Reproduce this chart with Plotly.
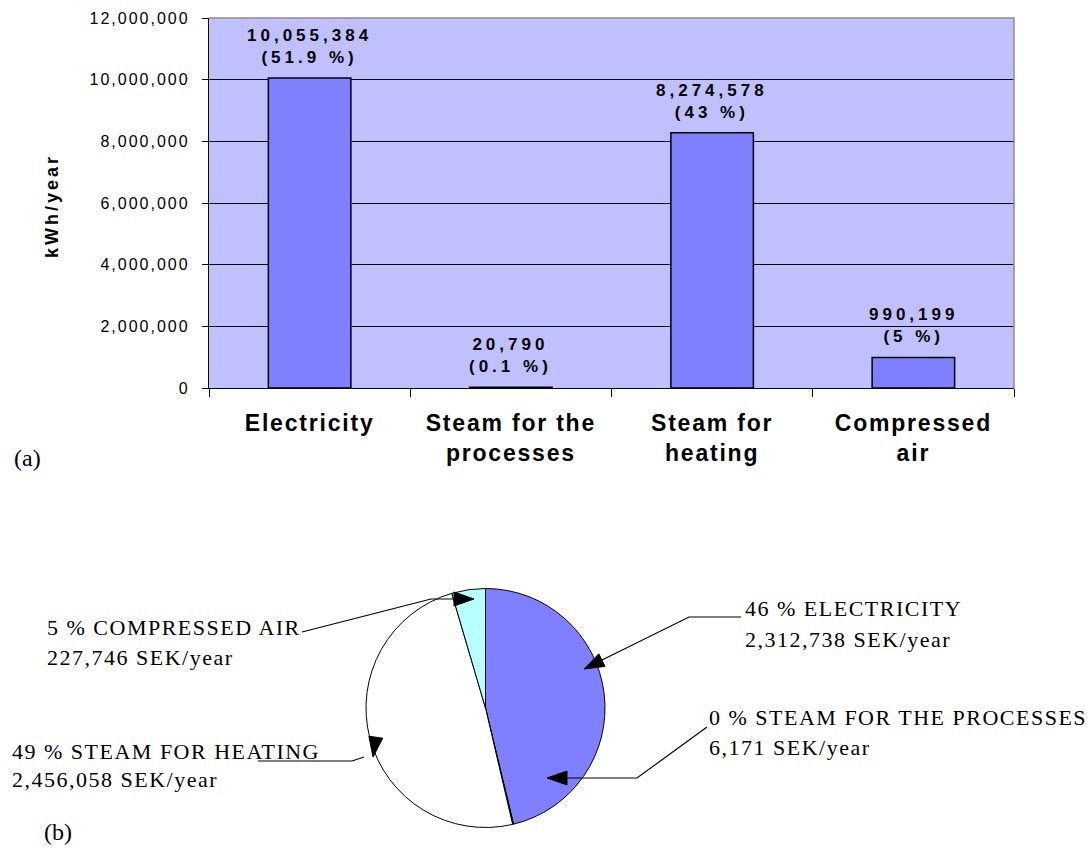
import plotly.graph_objects as go

# ---------------- data ----------------
categories = ["Electricity", "Steam for the processes", "Steam for heating", "Compressed air"]
tick_labels = ["Electricity", "Steam for the<br>processes", "Steam for<br>heating", "Compressed<br>air"]
energy_kwh = [10055384, 20790, 8274578, 990199]
energy_pct = ["51.9", "0.1", "43", "5"]

y_tickvals = [0, 2000000, 4000000, 6000000, 8000000, 10000000, 12000000]
y_ticktext = ["0", "2,000,000", "4,000,000", "6,000,000", "8,000,000", "10,000,000", "12,000,000"]

pie_labels = ["ELECTRICITY", "STEAM FOR THE PROCESSES", "STEAM FOR HEATING", "COMPRESSED AIR"]
cost_sek = [2312738, 6171, 2456058, 227746]
cost_pct = ["46", "0", "49", "5"]
pie_colors = ["#8080FF", "#000000", "#FFFFFF", "#B8FFFF"]

W, H = 1092, 848


def px(x):
    return x / W


def py(y):
    return 1 - y / H


def ls(text, sp):
    return f'<span style="letter-spacing:{sp}px">{text}</span>'


fig = go.Figure()

fig.add_trace(go.Bar(
    x=categories, y=energy_kwh,
    marker=dict(color="#8080FF", line=dict(color="black", width=1.5)),
    width=0.41, showlegend=False, hoverinfo="x+y",
))

fig.add_trace(go.Pie(
    labels=pie_labels, values=cost_sek,
    marker=dict(colors=pie_colors, line=dict(color="black", width=1)),
    sort=False, direction="clockwise", rotation=0,
    textinfo="none", showlegend=False,
    domain=dict(x=[px(366), px(605)], y=[py(828), py(588)]),
))

fig.update_layout(
    width=W, height=H,
    margin=dict(l=0, r=0, t=0, b=0, autoexpand=False),
    paper_bgcolor="white",
    plot_bgcolor="#C0C0FF",
    xaxis=dict(
        domain=[px(209), px(1014)],
        automargin=False,
        tickvals=categories,
        ticktext=[ls(t, 1.8) for t in tick_labels],
        tickfont=dict(family="Liberation Sans", size=23, color="black", weight="bold"),
        showline=True, linecolor="black", linewidth=1.3,
        ticks="outside", tickson="boundaries", ticklen=8, tickcolor="black",
        ticklabelstandoff=14,
        showgrid=False, zeroline=False, fixedrange=True,
    ),
    yaxis=dict(
        domain=[py(388), py(18)],
        automargin=False,
        range=[0, 12000000],
        tickvals=y_tickvals,
        ticktext=[ls(t, 2) for t in y_ticktext],
        tickfont=dict(family="Liberation Sans", size=16, color="black"),
        showline=True, linecolor="black", linewidth=1.3,
        ticks="outside", ticklen=6, tickcolor="black",
        ticklabelstandoff=9,
        showgrid=True, gridcolor="black", gridwidth=1.4,
        zeroline=False, fixedrange=True,
    ),
)

annotations = []
# bar value labels
for c, v, p in zip(categories, energy_kwh, energy_pct):
    annotations.append(dict(
        x=c, y=v, xref="x", yref="y", xanchor="center", yanchor="bottom", yshift=9,
        text=ls(f"{v:,}", 4) + "<br>" + ls(f"({p} %)", 4),
        showarrow=False,
        font=dict(family="Liberation Sans", size=17, color="black", weight="bold"),
    ))

# y-axis title
annotations.append(dict(
    x=px(52), y=py(206), xref="paper", yref="paper", xanchor="center", yanchor="middle",
    text=ls("kWh/year", 3), textangle=-90, showarrow=False,
    font=dict(family="Liberation Sans", size=18, color="black", weight="bold"),
))

# panel letters
annotations.append(dict(x=px(12), y=py(458), xref="paper", yref="paper", xanchor="left",
                        yanchor="middle", text="(a)", showarrow=False,
                        font=dict(family="Liberation Serif", size=24, color="black")))
annotations.append(dict(x=px(42), y=py(832), xref="paper", yref="paper", xanchor="left",
                        yanchor="middle", text="(b)", showarrow=False,
                        font=dict(family="Liberation Serif", size=24, color="black")))

# pie labels: (x, y line1, y line2) in pixels
label_pos = [(743, 608, 639), (707, 717, 747), (10, 751, 779), (45, 627, 657)]
serif = dict(family="Liberation Serif", size=22, color="black")
for (lx, y1, y2), name, val, pct in zip(label_pos, pie_labels, cost_sek, cost_pct):
    annotations.append(dict(x=px(lx), y=py(y1), xref="paper", yref="paper", xanchor="left",
                            yanchor="middle", text=ls(f"{pct} % {name}", 1.5),
                            showarrow=False, font=serif))
    annotations.append(dict(x=px(lx), y=py(y2), xref="paper", yref="paper", xanchor="left",
                            yanchor="middle", text=ls(f"{val:,} SEK/year", 1.5),
                            showarrow=False, font=serif))

fig.update_layout(annotations=annotations)

# ---------------- leader lines & arrowheads (pixel positions) ----------------
def path_from(points, close=False):
    s = "M " + " L ".join(f"{px(x):.5f},{py(y):.5f}" for x, y in points)
    return s + (" Z" if close else "")


def head(tip, frm, length=20, half=7):
    tx, ty = tip
    fx, fy = frm
    dx, dy = tx - fx, ty - fy
    n = (dx * dx + dy * dy) ** 0.5
    dx, dy = dx / n, dy / n
    bx, by = tx - dx * length, ty - dy * length
    qx, qy = -dy, dx
    return [(tx, ty), (bx + qx * half, by + qy * half), (bx - qx * half, by - qy * half)]


leaders = [
    # compressed air
    ([(302, 632), (431, 599), (455, 599)], (474, 599), (454, 599)),
    # steam for heating
    ([(258, 761), (352, 761), (364, 757)], (373, 757), (375, 743)),
    # electricity
    ([(741, 617), (689, 617), (600, 661)], (584, 669), (689, 617)),
    # steam for the processes
    ([(707, 727), (637, 778), (566, 778)], (547, 778), (637, 778)),
]
shapes = []
for line_pts, tip, frm in leaders:
    shapes.append(dict(type="path", xref="paper", yref="paper", path=path_from(line_pts),
                       line=dict(color="black", width=1.2), layer="above"))
    shapes.append(dict(type="path", xref="paper", yref="paper",
                       path=path_from(head(tip, frm), close=True),
                       fillcolor="black", line=dict(color="black", width=1), layer="above"))

# grey frame on top / right of plot area
shapes.append(dict(type="path", xref="paper", yref="paper",
                   path=path_from([(209, 18), (1014, 18), (1014, 388)]),
                   line=dict(color="#8C8C8C", width=1.5), layer="above"))

fig.update_layout(shapes=shapes)

fig.write_html("out.html")
